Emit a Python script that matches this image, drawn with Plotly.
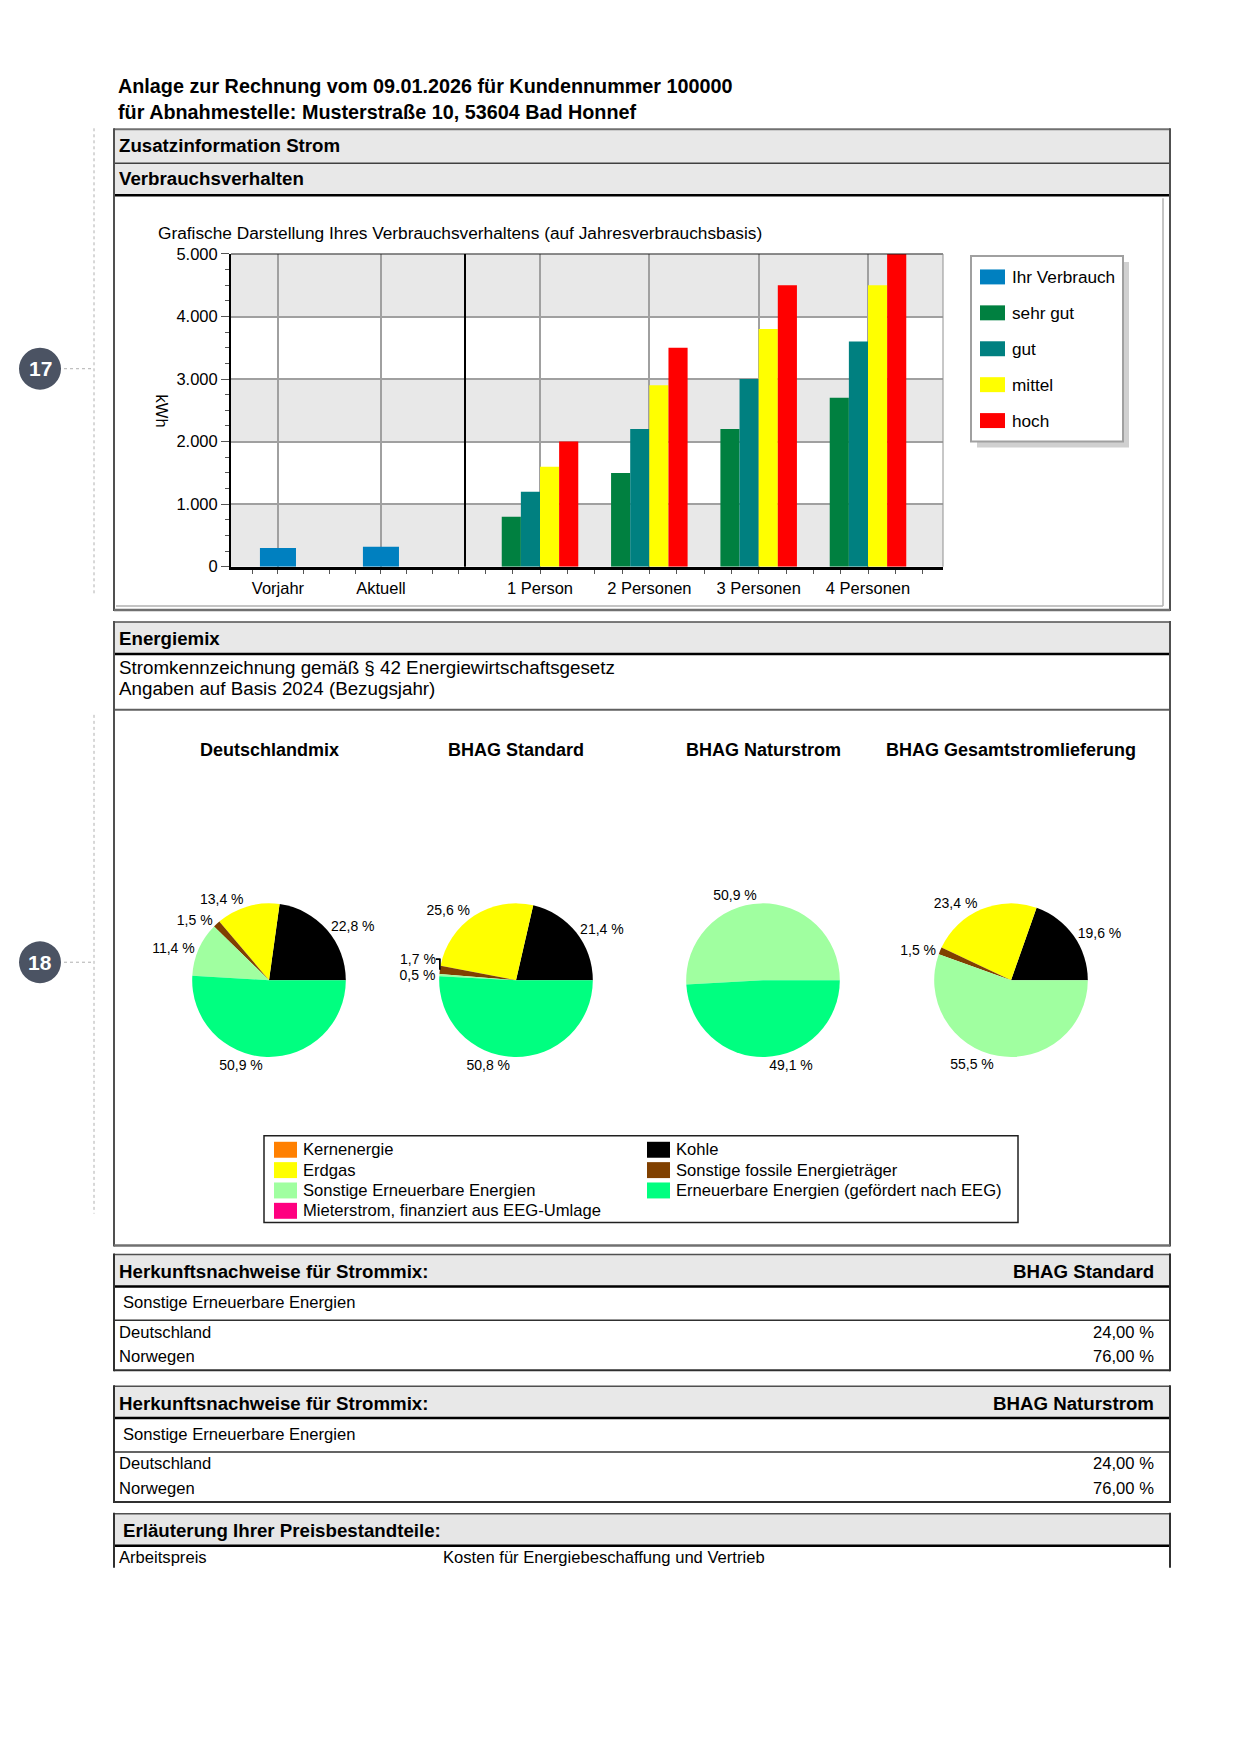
import plotly.graph_objects as go

W, H = 1240, 1754


def X(px):
    return px / W


def Y(py):
    # vertical page mapping (calibrated to the rendered page)
    return 1 - ((py - 7.4) / 0.9922) / H


FONT = "Arial, 'Liberation Sans', sans-serif"

# ---------------- data ----------------
usage_name = "Ihr Verbrauch"
usage_categories = ["Vorjahr", "Aktuell"]
usage_values = [300, 320]

household_categories = ["1 Person", "2 Personen", "3 Personen", "4 Personen"]
rating_names = ["sehr gut", "gut", "mittel", "hoch"]
sehr_gut = [800, 1500, 2200, 2700]
gut = [1200, 2200, 3000, 3600]
mittel = [1600, 2900, 3800, 4500]
hoch = [2000, 3500, 4500, 5000]
y_ticks = [0, 1000, 2000, 3000, 4000, 5000]

bar_colors = ["#0080c0", "#008040", "#008080", "#ffff00", "#ff0000"]

energy_sources = [
    "Kernenergie",
    "Kohle",
    "Erdgas",
    "Sonstige fossile Energieträger",
    "Sonstige Erneuerbare Energien",
    "Erneuerbare Energien (gefördert nach EEG)",
    "Mieterstrom, finanziert aus EEG-Umlage",
]
energy_colors = ["#ff8000", "#000000", "#ffff00", "#804000", "#a0ffa0", "#00ff80", "#ff0080"]
mix_titles = ["Deutschlandmix", "BHAG Standard", "BHAG Naturstrom", "BHAG Gesamtstromlieferung"]
deutschlandmix = [0, 22.8, 13.4, 1.5, 11.4, 50.9, 0]
bhag_standard = [0, 21.4, 25.6, 1.7, 0.5, 50.8, 0]
bhag_naturstrom = [0, 0, 0, 0, 50.9, 49.1, 0]
bhag_gesamt = [0, 19.6, 23.4, 1.5, 55.5, 0, 0]

origin_countries = ["Deutschland", "Norwegen"]
origin_standard = [24.00, 76.00]
origin_naturstrom = [24.00, 76.00]

# ---------------- figure ----------------
fig = go.Figure()

# consumption bars (left panel)
fig.add_trace(go.Bar(
    x=list(range(len(usage_categories))), y=usage_values, name=usage_name,
    width=0.35, offset=-0.175, marker=dict(color=bar_colors[0], line=dict(width=0)),
    xaxis="x", yaxis="y", showlegend=False, hoverinfo="skip"))

# comparison bars (right panel)
for k, (name, vals) in enumerate(zip(rating_names, [sehr_gut, gut, mittel, hoch])):
    fig.add_trace(go.Bar(
        x=list(range(len(household_categories))), y=vals, name=name,
        width=0.175, offset=-0.35 + 0.175 * k,
        marker=dict(color=bar_colors[k + 1], line=dict(width=0)),
        xaxis="x2", yaxis="y", showlegend=False, hoverinfo="skip"))


def pct1(v):
    return (f"{v:.1f}".replace(".", ",") + " %") if v > 0 else ""


pie_cx = [269, 516, 763, 1011]
pie_cy, pie_r = 981, 77
for title, vals, cx in zip(mix_titles, [deutschlandmix, bhag_standard, bhag_naturstrom, bhag_gesamt], pie_cx):
    fig.add_trace(go.Pie(
        labels=energy_sources, values=vals, text=[pct1(v) for v in vals],
        textinfo="text", textposition="outside", sort=False,
        direction="counterclockwise", rotation=90,
        marker=dict(colors=energy_colors, line=dict(width=0)),
        domain=dict(x=[X(cx - pie_r), X(cx + pie_r)], y=[Y(pie_cy + pie_r), Y(pie_cy - pie_r)]),
        textfont=dict(size=14, color="black", family=FONT),
        showlegend=False, hoverinfo="skip"))
    fig.add_annotation(x=X(cx), y=Y(750), xref="paper", yref="paper", text=f"<b>{title}</b>",
                       showarrow=False, xanchor="center", yanchor="middle",
                       font=dict(size=18, family=FONT, color="black"))

axis_common = dict(
    showgrid=True, gridcolor="#a0a0a0", gridwidth=1.5, zeroline=False,
    showline=True, linecolor="black", linewidth=3,
    ticks="outside", ticklen=4, tickcolor="#555555", ticklabelstandoff=0,
    minor=dict(dtick=0.25, tick0=0, ticks="outside", ticklen=4, tickcolor="#555555", showgrid=False),
    tickfont=dict(size=16.5, family=FONT, color="black"), fixedrange=True, anchor="y")

fig.update_layout(
    width=W, height=H, margin=dict(l=0, r=0, t=0, b=0),
    paper_bgcolor="white", plot_bgcolor="white",
    separators=",.", barmode="overlay", showlegend=False,
    font=dict(family=FONT, color="black"),
    xaxis=dict(domain=[X(231), X(465)], range=[-0.456, 1.816],
               tickvals=list(range(len(usage_categories))), ticktext=usage_categories, **axis_common),
    xaxis2=dict(domain=[X(465), X(943)], range=[-0.686, 3.686],
                tickvals=list(range(len(household_categories))), ticktext=household_categories, **axis_common),
    yaxis=dict(domain=[Y(566.5), Y(253)], range=[0, 5000], anchor="x",
               tickvals=y_ticks, tickformat=",d", showgrid=True, gridcolor="#a0a0a0", gridwidth=1.5,
               ticks="outside", ticklen=8, tickcolor="#555555",
               minor=dict(dtick=250, ticks="outside", ticklen=4, tickcolor="#555555", showgrid=False),
               showline=True, linecolor="black", linewidth=2, zeroline=False,
               tickfont=dict(size=16.5, family=FONT, color="black"), fixedrange=True),
)

shapes = []

# alternating plot bands
for y0 in [0, 2000, 4000]:
    for xr in ["x domain", "x2 domain"]:
        shapes.append(dict(type="rect", xref=xr, yref="y", x0=0, x1=1, y0=y0, y1=y0 + 1000,
                           fillcolor="#e8e8e8", line=dict(width=0), layer="below"))
# plot frame: top, separator, right
for xr in ["x domain", "x2 domain"]:
    shapes.append(dict(type="line", xref=xr, yref="y domain", x0=0, x1=1, y0=1, y1=1,
                       line=dict(color="#202020", width=1)))
shapes.append(dict(type="line", xref="x2 domain", yref="y domain", x0=0, x1=0, y0=0, y1=1,
                   line=dict(color="black", width=2)))
shapes.append(dict(type="line", xref="x2 domain", yref="y domain", x0=1, x1=1, y0=0, y1=1,
                   line=dict(color="#909090", width=1)))


def hline(y, x0, x1, color="#505050", width=2, dash=None):
    d = dict(type="line", xref="paper", yref="paper", x0=X(x0), x1=X(x1), y0=Y(y), y1=Y(y),
             line=dict(color=color, width=width))
    if dash:
        d["line"]["dash"] = dash
    shapes.append(d)


def vline(x, y0, y1, color="#505050", width=2, dash=None):
    d = dict(type="line", xref="paper", yref="paper", x0=X(x), x1=X(x), y0=Y(y0), y1=Y(y1),
             line=dict(color=color, width=width))
    if dash:
        d["line"]["dash"] = dash
    shapes.append(d)


def rect(x0, y0, x1, y1, fill, line_color=None, line_width=0, layer="below"):
    shapes.append(dict(type="rect", xref="paper", yref="paper", x0=X(x0), x1=X(x1), y0=Y(y1), y1=Y(y0),
                       fillcolor=fill, line=dict(color=line_color or fill, width=line_width), layer=layer))


def text(s, x, y, size=16, bold=False, anchor="left", color="black"):
    fig.add_annotation(x=X(x), y=Y(y), xref="paper", yref="paper",
                       text=f"<b>{s}</b>" if bold else s, showarrow=False,
                       xanchor=anchor, yanchor="middle",
                       font=dict(size=size, family=FONT, color=color))


L, R = 114, 1170

# --- page header ---
text("Anlage zur Rechnung vom 09.01.2026 für Kundennummer 100000", 116, 85, size=19.8, bold=True)
text("für Abnahmestelle: Musterstraße 10, 53604 Bad Honnef", 116, 111, size=19.8, bold=True)

# --- section Zusatzinformation Strom ---
rect(L, 128, R, 194, "#e8e8e8")
hline(128, L, R, "#707070", 2)
hline(162, L, R, "#404040", 1.5)
hline(194, L, R, "black", 2.5)
vline(L, 127, 611, "#505050", 2)
vline(R, 127, 611, "#505050", 2)
hline(610, L, R, "#707070", 2.5)
vline(1163, 197, 606, "#b0b0b0", 1.5)
hline(606, L + 2, 1163, "#b0b0b0", 1.5)
text("Zusatzinformation Strom", 117, 144, size=18.7, bold=True)
text("Verbrauchsverhalten", 117, 177, size=18.7, bold=True)
text("Grafische Darstellung Ihres Verbrauchsverhaltens (auf Jahresverbrauchsbasis)", 156, 232, size=17.3)
fig.add_annotation(x=X(162), y=Y(410), xref="paper", yref="paper", text="kWh", textangle=90,
                   showarrow=False, xanchor="center", yanchor="middle",
                   font=dict(size=16.5, family=FONT, color="black"))

# bar legend (box with shadow)
rect(977, 261, 1129, 447, "#d0d0d0")
rect(971, 255, 1123, 441, "white", "#a0a0a0", 2)
for i, name in enumerate([usage_name] + rating_names):
    yc = 276 + 36 * i
    rect(980, yc - 7.5, 1005, yc + 7.5, bar_colors[i], layer="above")
    text(name, 1010, yc, size=17.2)

# --- section Energiemix ---
rect(L, 622, R, 654, "#e8e8e8")
hline(622, L, R, "#505050", 1.5)
hline(654, L, R, "black", 2.5)
hline(710, L, R, "#606060", 2)
vline(L, 621, 1248, "#505050", 2)
vline(R, 621, 1248, "#505050", 2)
hline(1247, L, R, "#707070", 2.5)
text("Energiemix", 117, 638, size=18.7, bold=True)
text("Stromkennzeichnung gemäß § 42 Energiewirtschaftsgesetz", 117, 668, size=18.8)
text("Angaben auf Basis 2024 (Bezugsjahr)", 117, 689, size=18.8)

# pie legend
rect(264, 1137, 1018, 1224, "white", "#202020", 1.5)
for i, (name, col) in enumerate(zip(energy_sources, energy_colors)):
    row, colno = divmod(i, 2)
    yc = 1151 + 20.4 * row
    sx = 274 if colno == 0 else 647
    rect(sx, yc - 8, sx + 23, yc + 8, col, layer="above")
    text(name, sx + 27, yc, size=16.6)


# --- Herkunftsnachweise tables ---
def origin_table(top, product, values):
    rect(L, top, R, top + 32, "#e8e8e8")
    hline(top, L, R, "#505050", 1.5)
    hline(top + 32, L, R, "black", 2.5)
    hline(top + 66, L, R, "#303030", 1.5)
    bottom = top + 66 + 25 * len(values)
    hline(bottom, L, R, "#303030", 2)
    vline(L, top - 1, bottom + 1, "#303030", 2)
    vline(R, top - 1, bottom + 1, "#303030", 2)
    text("Herkunftsnachweise für Strommix:", 117, top + 17, size=18.7, bold=True)
    text(product, 1156, top + 17, size=18.7, bold=True, anchor="right")
    text(energy_sources[4], 121, top + 48, size=16.6)
    for j, (country, v) in enumerate(zip(origin_countries, values)):
        yc = top + 78 + 24.5 * j
        text(country, 117, yc, size=16.6)
        text(f"{v:.2f}".replace(".", ",") + " %", 1156, yc, size=16.6, anchor="right")


origin_table(1256, mix_titles[1], origin_standard)
origin_table(1388, mix_titles[2], origin_naturstrom)

# --- Erläuterung ---
rect(L, 1516, R, 1548, "#e6e6e6")
hline(1516, L, R, "#505050", 1.5)
hline(1548, L, R, "black", 2.5)
vline(L, 1515, 1570, "#303030", 2)
vline(R, 1515, 1570, "#303030", 2)
text("Erläuterung Ihrer Preisbestandteile:", 121, 1533, size=18.7, bold=True)
text("Arbeitspreis", 117, 1560, size=16.6)
text("Kosten für Energiebeschaffung und Vertrieb", 441, 1560, size=16.6)

# --- side markers ---
for num, cy, y0, y1 in [("17", 368, 127, 594), ("18", 963, 715, 1215)]:
    vline(94, y0, y1, "#b0b0b0", 1, "dot")
    hline(cy, 64, 94, "#b0b0b0", 1, "dot")
    shapes.append(dict(type="circle", xref="paper", yref="paper", x0=X(19), x1=X(61),
                       y0=Y(cy + 21), y1=Y(cy - 21), fillcolor="#4b5363", line=dict(width=0)))
    text(num, 40, cy, size=21, bold=True, anchor="center", color="white")

fig.update_layout(shapes=shapes)

fig.write_html("out.html", config={"displayModeBar": False},
               post_script="document.body.style.margin='0';")
